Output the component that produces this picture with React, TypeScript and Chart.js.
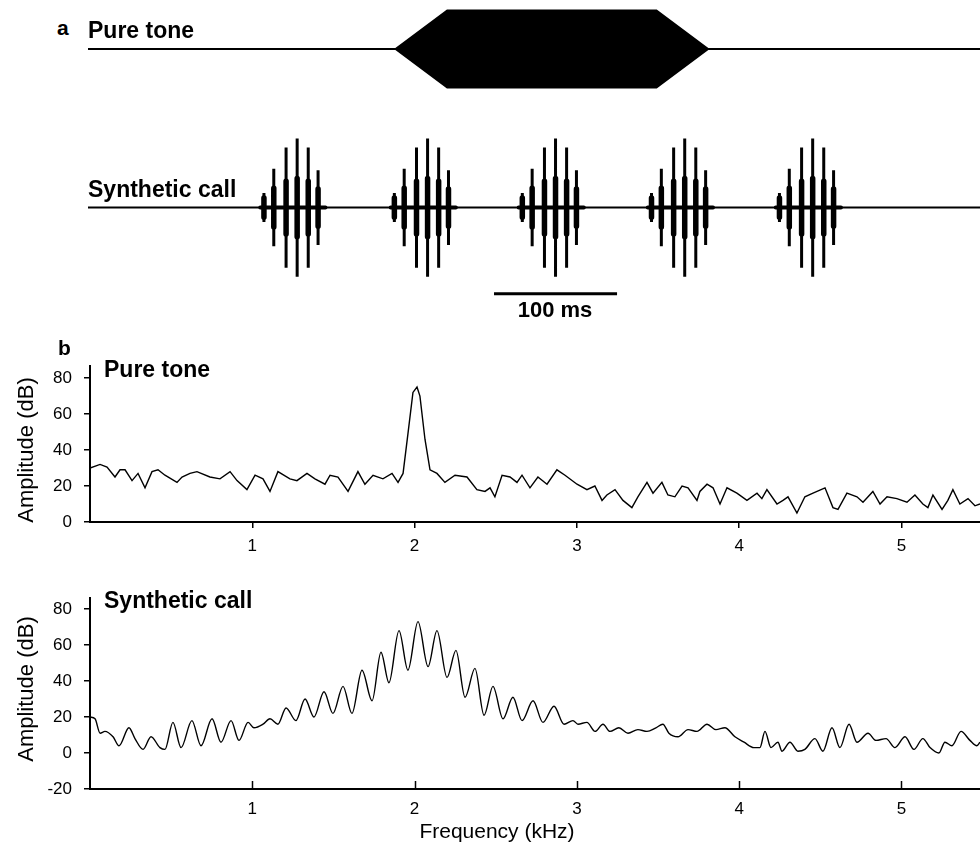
import React, { useEffect, useRef } from "react";
import { Chart, registerables } from "chart.js";

Chart.register(...registerables);

const FONT = "'Liberation Sans', Arial, Helvetica, sans-serif";

// ---------- Panel a: waveforms (time in ms) ----------
const timeMax = 725;
const toneTime = [0, 250, 292, 462, 504, 725];
const toneEnv = [0, 0, 1, 1, 0, 0];

const pulseOnsets = [140, 246, 350, 455, 559];
const pulseDur = 53;
const spikeOffsets = [3, 11, 21, 30, 39, 47];
const spikeAmps = [0.21, 0.56, 0.87, 1.0, 0.87, 0.54];
const bodyAmps = [0.14, 0.28, 0.38, 0.42, 0.38, 0.27];
const scaleBar = [330, 430];
const scaleBarLevel = -1.246;

// ---------- Panel b: spectra ----------
const freqTicks = [1, 2, 3, 4, 5];
const ampTicksTop = [0, 20, 40, 60, 80];
const ampTicksBottom = [-20, 0, 20, 40, 60, 80];

const ptFreq = [
  0.0, 0.062, 0.105, 0.154, 0.185, 0.216, 0.259, 0.296, 0.339, 0.382, 0.419, 0.462, 0.536, 0.567, 0.616,
  0.659, 0.739, 0.801, 0.863, 0.906, 0.967, 1.017, 1.066, 1.109, 1.158, 1.232, 1.275, 1.337, 1.386, 1.448,
  1.479, 1.528, 1.59, 1.651, 1.694, 1.744, 1.805, 1.861, 1.898, 1.929, 1.959, 1.99, 2.015, 2.033, 2.064,
  2.095, 2.138, 2.187, 2.249, 2.323, 2.384, 2.434, 2.465, 2.495, 2.539, 2.588, 2.631, 2.662, 2.711, 2.76,
  2.816, 2.877, 2.927, 3.001, 3.062, 3.111, 3.155, 3.185, 3.235, 3.284, 3.339, 3.376, 3.432, 3.469, 3.524,
  3.561, 3.604, 3.648, 3.685, 3.74, 3.758, 3.802, 3.839, 3.882, 3.925, 3.986, 4.048, 4.11, 4.14, 4.171,
  4.233, 4.27, 4.301, 4.356, 4.405, 4.455, 4.529, 4.578, 4.609, 4.664, 4.726, 4.763, 4.824, 4.868, 4.911,
  4.972, 5.034, 5.083, 5.132, 5.163, 5.194, 5.25, 5.286, 5.317, 5.36, 5.41, 5.453, 5.484,
];
const ptAmp = [
  30, 32, 30.5, 25, 29, 29, 23, 27, 19, 28, 29, 26, 22, 25, 27,
  28, 25, 24, 28, 23, 18, 26, 24, 17, 28, 24, 23, 27, 24, 21,
  26, 25, 17, 28, 21, 26, 24, 27, 22, 27, 49, 72, 75, 70, 46,
  29, 27, 22, 26, 25, 18, 17, 19, 14, 26, 25, 22, 26, 19, 25,
  21, 29, 26, 21, 18, 20, 12, 15, 18, 12, 8, 14, 22, 16, 22,
  15, 14, 20, 19, 12, 17, 21, 19, 10, 19, 16, 12, 16, 13, 18,
  10, 12, 14, 5, 14, 16, 19, 8, 7, 16, 14, 11, 17, 10, 14,
  13, 11, 15, 10, 8, 15, 7, 12, 18, 10, 13, 9, 10,
];

const scFreq = [
  0.0, 0.031, 0.062, 0.092, 0.142, 0.179, 0.24, 0.277, 0.327, 0.376, 0.431, 0.462, 0.511, 0.561, 0.628,
  0.684, 0.752, 0.807, 0.869, 0.918, 0.974, 1.01, 1.066, 1.109, 1.158, 1.208, 1.269, 1.325, 1.38, 1.442,
  1.497, 1.559, 1.614, 1.676, 1.738, 1.793, 1.842, 1.904, 1.959, 2.021, 2.083, 2.138, 2.2, 2.255, 2.311,
  2.372, 2.428, 2.483, 2.545, 2.606, 2.662, 2.73, 2.791, 2.859, 2.921, 2.976, 3.007, 3.062, 3.112, 3.161,
  3.204, 3.259, 3.315, 3.376, 3.432, 3.487, 3.53, 3.567, 3.623, 3.685, 3.74, 3.802, 3.857, 3.912, 3.974,
  4.03, 4.091, 4.128, 4.159, 4.196, 4.239, 4.264, 4.313, 4.362, 4.405, 4.467, 4.516, 4.572, 4.621, 4.677,
  4.726, 4.794, 4.843, 4.905, 4.96, 5.022, 5.077, 5.132, 5.176, 5.231, 5.268, 5.311, 5.367, 5.422, 5.465,
  5.484,
];
const scAmp = [
  20, 19, 11, 12, 9, 4, 14, 8, 2, 9, 3, 2, 17, 3, 18,
  4, 19, 6, 18, 7, 17, 14, 16, 19, 16, 25, 18, 30, 20, 34,
  22, 37, 22, 46, 29, 56, 39, 68, 46, 73, 48, 68, 42, 57, 31,
  47, 21, 37, 19, 31, 18, 29, 17, 26, 16, 18, 16, 17, 12, 16,
  12, 14, 11, 13, 12, 14, 16, 11, 9, 13, 12, 16, 13, 14, 9,
  6, 3, 3, 12, 3, 6, 1, 6, 1, 2, 8, 1, 14, 3, 16,
  6, 11, 7, 8, 3, 9, 2, 8, 3, 0, 6, 4, 12, 7, 4,
  6,
];

const xyPoints = (xs: number[], ys: number[]) => xs.map((x, i) => ({ x, y: ys[i] }));

function spikeSegments(amps: number[]) {
  const pts: { x: number; y: number | null }[] = [];
  pulseOnsets.forEach((on) => {
    spikeOffsets.forEach((off, i) => {
      const t = on + off;
      pts.push({ x: t, y: amps[i] });
      pts.push({ x: t, y: -amps[i] });
      pts.push({ x: t, y: null });
    });
  });
  return pts;
}

function pulseCores() {
  const pts: { x: number; y: number | null }[] = [];
  pulseOnsets.forEach((on) => {
    pts.push({ x: on, y: 0 });
    pts.push({ x: on + pulseDur, y: 0 });
    pts.push({ x: on + pulseDur, y: null });
  });
  return pts;
}

const inwardTicks = {
  id: "inwardTicks",
  afterDraw(chart: any) {
    const xs = chart.scales.x;
    const ctx = chart.ctx;
    const b = chart.chartArea.bottom;
    ctx.save();
    ctx.strokeStyle = "#000";
    ctx.lineWidth = 1.5;
    xs.ticks.forEach((t: any) => {
      const p = Math.round(xs.getPixelForValue(t.value)) + 0.5;
      ctx.beginPath();
      ctx.moveTo(p, b);
      ctx.lineTo(p, b - 8);
      ctx.stroke();
    });
    ctx.restore();
  },
};

const baseOpts = {
  responsive: false,
  maintainAspectRatio: false,
  animation: false as const,
  devicePixelRatio: 1,
  events: [] as any[],
  layout: { padding: 0 },
  plugins: { legend: { display: false }, tooltip: { enabled: false }, title: { display: false } },
  elements: { point: { radius: 0 } },
};

function spectrumOptions(yMin: number, yMax: number, yTicks: number[], padTop: number, xHeight: number, outwardX: boolean, xPad: number) {
  return {
    ...baseOpts,
    layout: { padding: { top: padTop, left: 0, right: 0, bottom: 0 } },
    scales: {
      x: {
        type: "linear",
        min: 0,
        max: 5.484,
        afterBuildTicks: (s: any) => {
          s.ticks = freqTicks.map((v) => ({ value: v }));
        },
        afterFit: (s: any) => {
          s.height = xHeight;
        },
        ticks: {
          autoSkip: false,
          maxRotation: 0,
          padding: xPad,
          color: "#000",
          font: { family: FONT, size: 17 },
          callback: (v: any) => String(v),
        },
        grid: outwardX
          ? { display: true, drawOnChartArea: false, drawTicks: true, tickLength: 6, color: "#000", lineWidth: 1.5 }
          : { display: true, drawOnChartArea: false, drawTicks: false, color: "#000", lineWidth: 0 },
        border: { display: true, color: "#000", width: 2 },
      },
      y: {
        type: "linear",
        min: yMin,
        max: yMax,
        afterBuildTicks: (s: any) => {
          s.ticks = yTicks.map((v) => ({ value: v }));
        },
        afterFit: (s: any) => {
          s.width = 90;
        },
        ticks: {
          padding: 12,
          color: "#000",
          font: { family: FONT, size: 17 },
          callback: (v: any) => String(v),
        },
        grid: { display: true, drawOnChartArea: false, drawTicks: true, tickLength: 6, color: "#000", lineWidth: 1.5 },
        border: { display: true, color: "#000", width: 2 },
      },
    },
  };
}

const hiddenScales = (yMin: number, yMax: number) => ({
  x: { type: "linear", min: 0, max: timeMax, display: false },
  y: { type: "linear", min: yMin, max: yMax, display: false },
});

function Label(props: { text: string; x: number; base: number; size: number; bold?: boolean; center?: boolean }) {
  const { text, x, base, size, bold, center } = props;
  return (
    <div
      style={{
        position: "absolute",
        left: x,
        top: base - 0.8465 * size,
        fontSize: size,
        lineHeight: `${size}px`,
        fontWeight: bold ? 700 : 400,
        whiteSpace: "nowrap",
        transform: center ? "translateX(-50%)" : undefined,
      }}
    >
      {text}
    </div>
  );
}

function VLabel(props: { text: string; cx: number; cy: number; size: number }) {
  return (
    <div
      style={{
        position: "absolute",
        left: props.cx,
        top: props.cy,
        fontSize: props.size,
        lineHeight: `${props.size}px`,
        whiteSpace: "nowrap",
        transform: "translate(-50%, -50%) rotate(-90deg)",
      }}
    >
      {props.text}
    </div>
  );
}

export default function App() {
  const toneRef = useRef<HTMLCanvasElement>(null);
  const callRef = useRef<HTMLCanvasElement>(null);
  const specTopRef = useRef<HTMLCanvasElement>(null);
  const specBotRef = useRef<HTMLCanvasElement>(null);

  useEffect(() => {
    const charts: Chart[] = [];

    charts.push(
      new Chart(toneRef.current as HTMLCanvasElement, {
        type: "line",
        data: {
          datasets: [
            {
              data: xyPoints(toneTime, toneEnv),
              borderColor: "#000",
              borderWidth: 2,
              fill: false,
              tension: 0,
            },
            {
              data: xyPoints(toneTime, toneEnv.map((v) => -v)),
              borderColor: "#000",
              borderWidth: 2,
              backgroundColor: "#000",
              fill: "-1",
              tension: 0,
            },
          ],
        },
        options: { ...baseOpts, scales: hiddenScales(-1.14, 1.14) } as any,
      })
    );

    charts.push(
      new Chart(callRef.current as HTMLCanvasElement, {
        type: "line",
        data: {
          datasets: [
            { data: [{ x: 0, y: 0 }, { x: timeMax, y: 0 }], borderColor: "#000", borderWidth: 2 },
            { data: pulseCores(), borderColor: "#000", borderWidth: 4, spanGaps: false, borderCapStyle: "round" },
            { data: spikeSegments(bodyAmps), borderColor: "#000", borderWidth: 5.5, spanGaps: false, borderCapStyle: "round" },
            { data: spikeSegments(spikeAmps), borderColor: "#000", borderWidth: 3, spanGaps: false },
            {
              data: [
                { x: scaleBar[0], y: scaleBarLevel },
                { x: scaleBar[1], y: scaleBarLevel },
              ],
              borderColor: "#000",
              borderWidth: 3,
            },
          ],
        },
        options: { ...baseOpts, scales: hiddenScales(-1.35, 1.15) } as any,
      })
    );

    charts.push(
      new Chart(specTopRef.current as HTMLCanvasElement, {
        type: "line",
        data: {
          datasets: [
            { data: xyPoints(ptFreq, ptAmp), borderColor: "#000", borderWidth: 1.4, tension: 0, fill: false },
          ],
        },
        options: spectrumOptions(0, 86.7, ampTicksTop, 26, 48, true, 8) as any,
      })
    );

    charts.push(
      new Chart(specBotRef.current as HTMLCanvasElement, {
        type: "line",
        data: {
          datasets: [
            {
              data: xyPoints(scFreq, scAmp),
              borderColor: "#000",
              borderWidth: 1.4,
              cubicInterpolationMode: "monotone",
              fill: false,
            },
          ],
        },
        options: spectrumOptions(-20, 86.1, ampTicksBottom, 23, 62, false, 10) as any,
        plugins: [inwardTicks],
      })
    );

    return () => charts.forEach((c) => c.destroy());
  }, []);

  return (
    <div
      style={{
        position: "absolute",
        left: 0,
        top: 0,
        width: 980,
        height: 851,
        background: "#fff",
        overflow: "hidden",
        fontFamily: FONT,
        color: "#000",
      }}
    >
      <canvas ref={toneRef} width={892} height={88} style={{ position: "absolute", left: 88, top: 5, width: 892, height: 88 }} />
      <canvas ref={callRef} width={892} height={173} style={{ position: "absolute", left: 88, top: 128, width: 892, height: 173 }} />
      <canvas ref={specTopRef} width={980} height={230} style={{ position: "absolute", left: 0, top: 340, width: 980, height: 230 }} />
      <canvas ref={specBotRef} width={980} height={276} style={{ position: "absolute", left: 0, top: 575, width: 980, height: 276 }} />

      <Label text="a" x={57} base={35} size={21} bold />
      <Label text="Pure tone" x={88} base={38} size={23} bold />
      <Label text="Synthetic call" x={88} base={197} size={23} bold />
      <Label text="100 ms" x={555} base={318} size={22} bold center />
      <Label text="b" x={58} base={355} size={21} bold />
      <Label text="Pure tone" x={104} base={377} size={23} bold />
      <Label text="Synthetic call" x={104} base={608} size={23} bold />

      <VLabel text="Amplitude (dB)" cx={26} cy={450} size={22} />
      <VLabel text="Amplitude (dB)" cx={26} cy={689} size={22} />
      <Label text="Frequency (kHz)" x={497} base={838} size={21} center />
    </div>
  );
}
